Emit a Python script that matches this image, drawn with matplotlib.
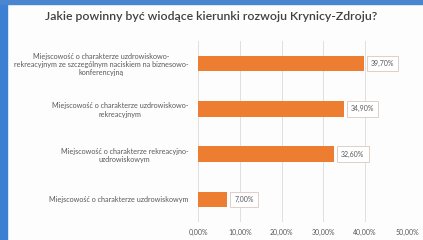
import numpy as np
import matplotlib.pyplot as plt
from matplotlib.patches import Rectangle
from matplotlib.ticker import FuncFormatter

categories = [
    "Miejscowość o charakterze uzdrowiskowo-\nrekreacyjnym ze szczególnym naciskiem na biznesowo-\nkonferencyjną",
    "Miejscowość o charakterze uzdrowiskowo-\nrekreacyjnym",
    "Miejscowość o charakterze rekreacyjno-\nuzdrowiskowym",
    "Miejscowość o charakterze uzdrowiskowym",
]
values = [39.70, 34.90, 32.60, 7.00]
xticks = [0, 10, 20, 30, 40, 50]

title = "Jakie powinny być wiodące kierunki rozwoju Krynicy-Zdroju?"
bar_color = "#ED7D31"
text_color = "#595959"

plt.rcParams['font.family'] = ['Lato', 'DejaVu Sans']

fig = plt.figure(figsize=(4.23, 2.40), dpi=100)
fig.patch.set_facecolor("#FDFDFD")

# blue frame strips of the slide
fig.add_artist(Rectangle((0, 0), 7 / 423, 1, transform=fig.transFigure,
                         color="#3C7FD3", zorder=0))
fig.add_artist(Rectangle((0, 1 - 4 / 240), 1, 4 / 240, transform=fig.transFigure,
                         color="#4A86CF", zorder=0))

ax = fig.add_axes([198 / 423, 1 - 222 / 240, (407 - 198) / 423, (222 - 41) / 240])
ax.set_facecolor("none")

y = np.arange(len(categories))
ax.barh(y, values, height=0.34, color=bar_color, zorder=3)

ax.set_xlim(0, 50)
ax.set_ylim(len(categories) - 0.5, -0.5)
ax.set_xticks(xticks)
ax.xaxis.set_major_formatter(FuncFormatter(lambda v, p: f"{v:.2f}%".replace(".", ",")))
ax.set_yticks(y)
ax.set_yticklabels(categories, fontsize=5.2, color=text_color)
for lab in ax.get_yticklabels():
    lab.set_multialignment('center')

ax.tick_params(axis='x', labelsize=5, colors=text_color, length=0, pad=5)
ax.tick_params(axis='y', length=0, pad=7)
ax.grid(axis='x', color="#E0E0E0", linewidth=0.7, zorder=0)
for s in ax.spines.values():
    s.set_visible(False)

for yi, v in zip(y, values):
    ax.annotate(f"{v:.2f}%".replace(".", ","), (v, yi), xytext=(5, 0),
                textcoords='offset points', va='center', ha='left',
                fontsize=5, color=text_color, zorder=4,
                bbox=dict(boxstyle='square,pad=0.6', fc='white', ec='#D9C9BD', lw=0.6))

fig.text(0.5, 1 - 17 / 240, title, ha='center', va='center', fontsize=8.8,
         fontweight='semibold', color="#404040")

fig.savefig("out.png", dpi=100, facecolor=fig.get_facecolor())
